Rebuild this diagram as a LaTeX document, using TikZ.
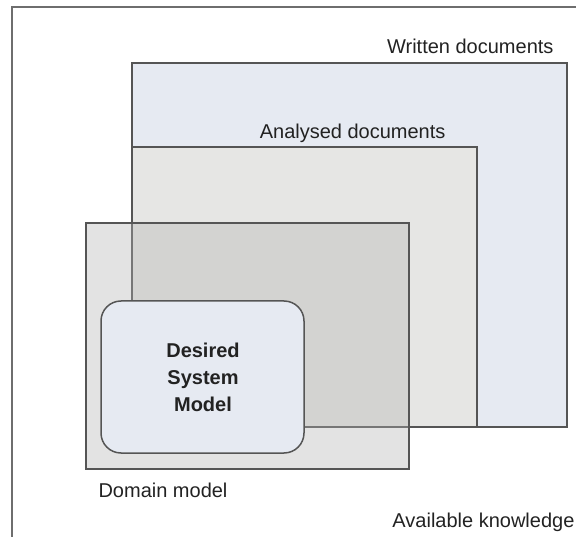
\documentclass[tikz,border=0pt]{standalone}
\usepackage{fontspec}
\setmainfont{Liberation Sans}
\definecolor{docblue}{HTML}{E6EAF2}
\definecolor{docgray}{HTML}{E6E6E4}
\definecolor{edge}{HTML}{555555}
\definecolor{ink}{HTML}{222222}

\begin{document}
\begin{tikzpicture}[x=1pt,y=-1pt,font=\fontsize{20}{27}\selectfont,
    box/.style={draw=edge,line width=1.5pt}]
    \useasboundingbox(0,0)rectangle(576,537);
    % available knowledge, runs out of the picture
    \draw[edge!85,line width=1.3pt](577,7)--(12,7)--(12,538);

    \filldraw[box,fill=docblue](132,63)rectangle(567,427);
    \filldraw[box,fill=docgray](132,147)rectangle(477,427);
    \filldraw[box,fill=black!30,fill opacity=0.36](86,223)rectangle(409,469);
    \filldraw[box,fill=docblue,rounded corners=20pt](101,301)rectangle(304,453);

    \node[ink,anchor=base east](written)at(557,54){Written documents};
    \node[ink,anchor=base east](analysed)at(449,139){Analysed documents};
    \node[ink,anchor=base west](domain)at(95,497){Domain model};
    \node[ink,anchor=base east](avail)at(578,527){Available knowledge};
    \node[ink,align=center,font=\fontsize{20}{27}\selectfont\bfseries](desired)at(203,377){Desired\\System\\Model};
\end{tikzpicture}
\end{document}
